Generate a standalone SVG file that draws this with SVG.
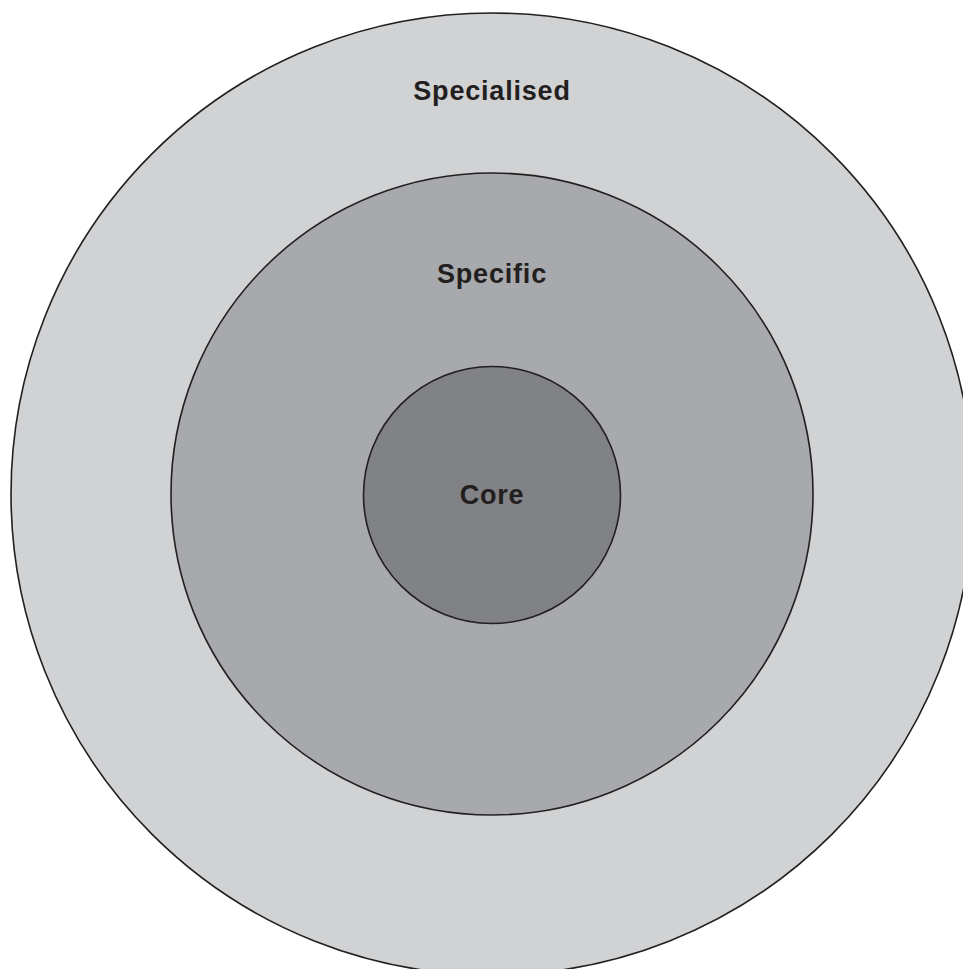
<svg xmlns="http://www.w3.org/2000/svg" width="963" height="969" viewBox="0 0 963 969">
<style>
.ring{stroke:#231f20;stroke-width:1.6}
.lbl{font-family:"Liberation Sans",Arial,sans-serif;font-weight:bold;font-size:27px;letter-spacing:0.8px;fill:#231f20;text-anchor:middle}
</style>
<rect width="963" height="969" fill="#ffffff"/>
<g id="specialised">
<circle class="ring" cx="492" cy="494" r="481" fill="#d1d2d4"/>
<text class="lbl" x="492" y="100">Specialised</text>
</g>
<g id="specific">
<circle class="ring" cx="492" cy="494" r="321" fill="#a7a9ac"/>
<text class="lbl" x="492" y="283">Specific</text>
</g>
<g id="core">
<circle class="ring" cx="492" cy="495" r="128.5" fill="#808285"/>
<text class="lbl" x="492" y="504">Core</text>
</g>
<g id="connectors"/>
</svg>
